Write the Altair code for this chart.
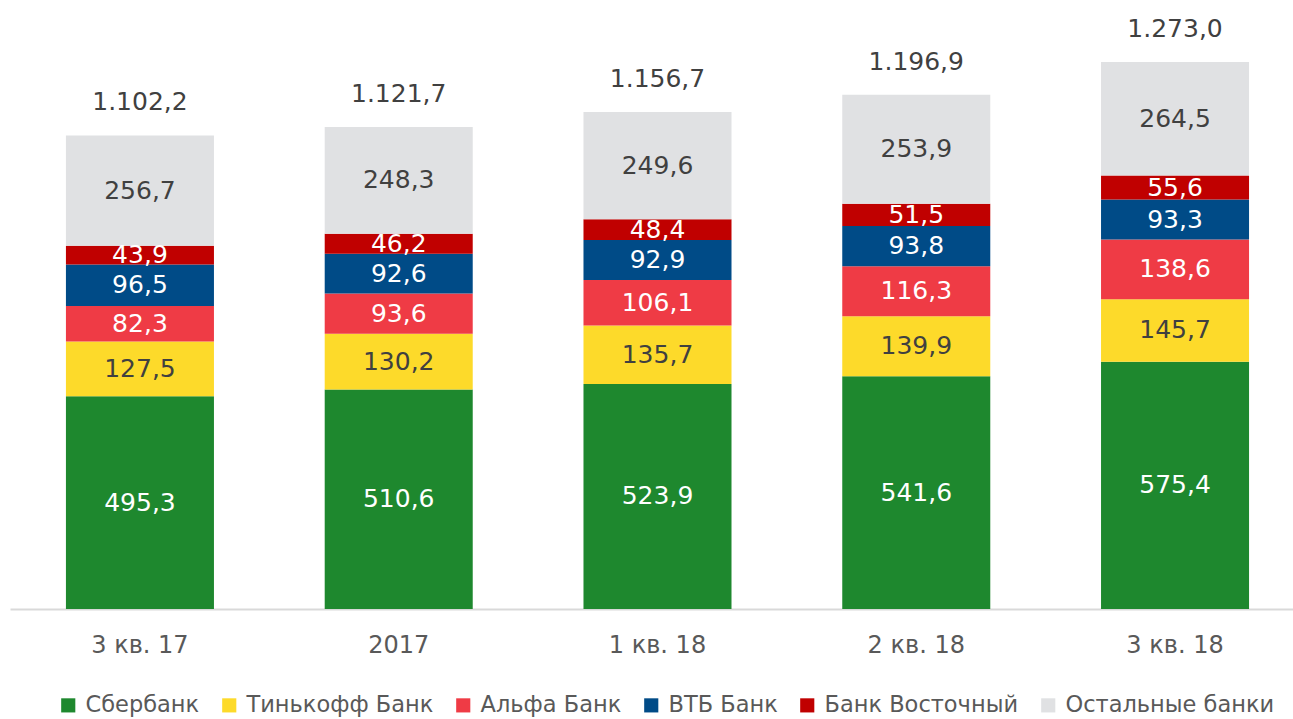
import altair as alt
import pandas as pd

FONT = "DejaVu Sans"

categories = ["3 кв. 17", "2017", "1 кв. 18", "2 кв. 18", "3 кв. 18"]
banks = ["Сбербанк", "Тинькофф Банк", "Альфа Банк", "ВТБ Банк", "Банк Восточный", "Остальные банки"]
sber = [495.3, 510.6, 523.9, 541.6, 575.4]
tinkoff = [127.5, 130.2, 135.7, 139.9, 145.7]
alfa = [82.3, 93.6, 106.1, 116.3, 138.6]
vtb = [96.5, 92.6, 92.9, 93.8, 93.3]
vostochny = [43.9, 46.2, 48.4, 51.5, 55.6]
others = [256.7, 248.3, 249.6, 253.9, 264.5]
totals = [1102.2, 1121.7, 1156.7, 1196.9, 1273.0]

colors = ["#1E882E", "#FDDA2A", "#EF3B45", "#004B87", "#C00000", "#E0E1E3"]
label_colors = ["#FFFFFF", "#404040", "#FFFFFF", "#FFFFFF", "#FFFFFF", "#404040"]

series = [sber, tinkoff, alfa, vtb, vostochny, others]


def fmt(v):
    s = f"{v:,.1f}"
    return s.replace(",", " ").replace(".", ",").replace(" ", ".")


rows = []
for i, (bank, vals) in enumerate(zip(banks, series)):
    for cat, v in zip(categories, vals):
        rows.append({"cat": cat, "bank": bank, "order": i, "value": v,
                     "label": fmt(v), "tcolor": label_colors[i]})
df = pd.DataFrame(rows)

tot_df = pd.DataFrame({"cat": categories, "total": totals,
                       "tlabel": [fmt(t) for t in totals]})

xenc = alt.X("cat:N", sort=categories, title=None,
             scale=alt.Scale(paddingInner=0.428, paddingOuter=0.193, align=0.56),
             axis=alt.Axis(labelAngle=0, ticks=False, domainColor="#D9D9D9",
                           domainWidth=2, labelFontSize=24, labelColor="#595959",
                           labelFont=FONT, labelPadding=24, grid=False))
yscale = alt.Scale(domain=[0, 1417.3], nice=False, zero=True)

base = alt.Chart(df).transform_stack(
    stack="value", groupby=["cat"], as_=["y0", "y1"],
    sort=[alt.SortField("order", "ascending")]
).transform_calculate(mid="(datum.y0 + datum.y1) / 2")

bars = base.mark_bar().encode(
    x=xenc,
    y=alt.Y("y0:Q", scale=yscale, axis=None),
    y2="y1:Q",
    color=alt.Color("bank:N", scale=alt.Scale(domain=banks, range=colors),
                    legend=alt.Legend(title=None, orient="none", direction="horizontal",
                                      legendX=47, legendY=694, symbolType="square",
                                      symbolSize=200, symbolStrokeWidth=0,
                                      labelFontSize=22.5, labelColor="#595959",
                                      labelFont=FONT, columnPadding=18, labelOffset=6,
                                      labelLimit=0, columns=6)),
)

labels = base.mark_text(fontSize=25, font=FONT).encode(
    x=xenc,
    y=alt.Y("mid:Q", scale=yscale, axis=None),
    text="label:N",
    color=alt.Color("tcolor:N", scale=None, legend=None),
)

tot_text = alt.Chart(tot_df).mark_text(fontSize=25, font=FONT, color="#404040", dy=-33).encode(
    x=xenc,
    y=alt.Y("total:Q", scale=yscale, axis=None),
    text="tlabel:N",
)

chart = alt.layer(bars, labels, tot_text).resolve_scale(color="independent").properties(
    width=1283, height=609,
    padding={"left": 10, "top": 0, "right": 0, "bottom": 110},
    autosize=alt.AutoSizeParams(type="none"),
).configure_view(stroke=None)

chart.save("out.html", embed_options={"renderer": "svg", "actions": False})
